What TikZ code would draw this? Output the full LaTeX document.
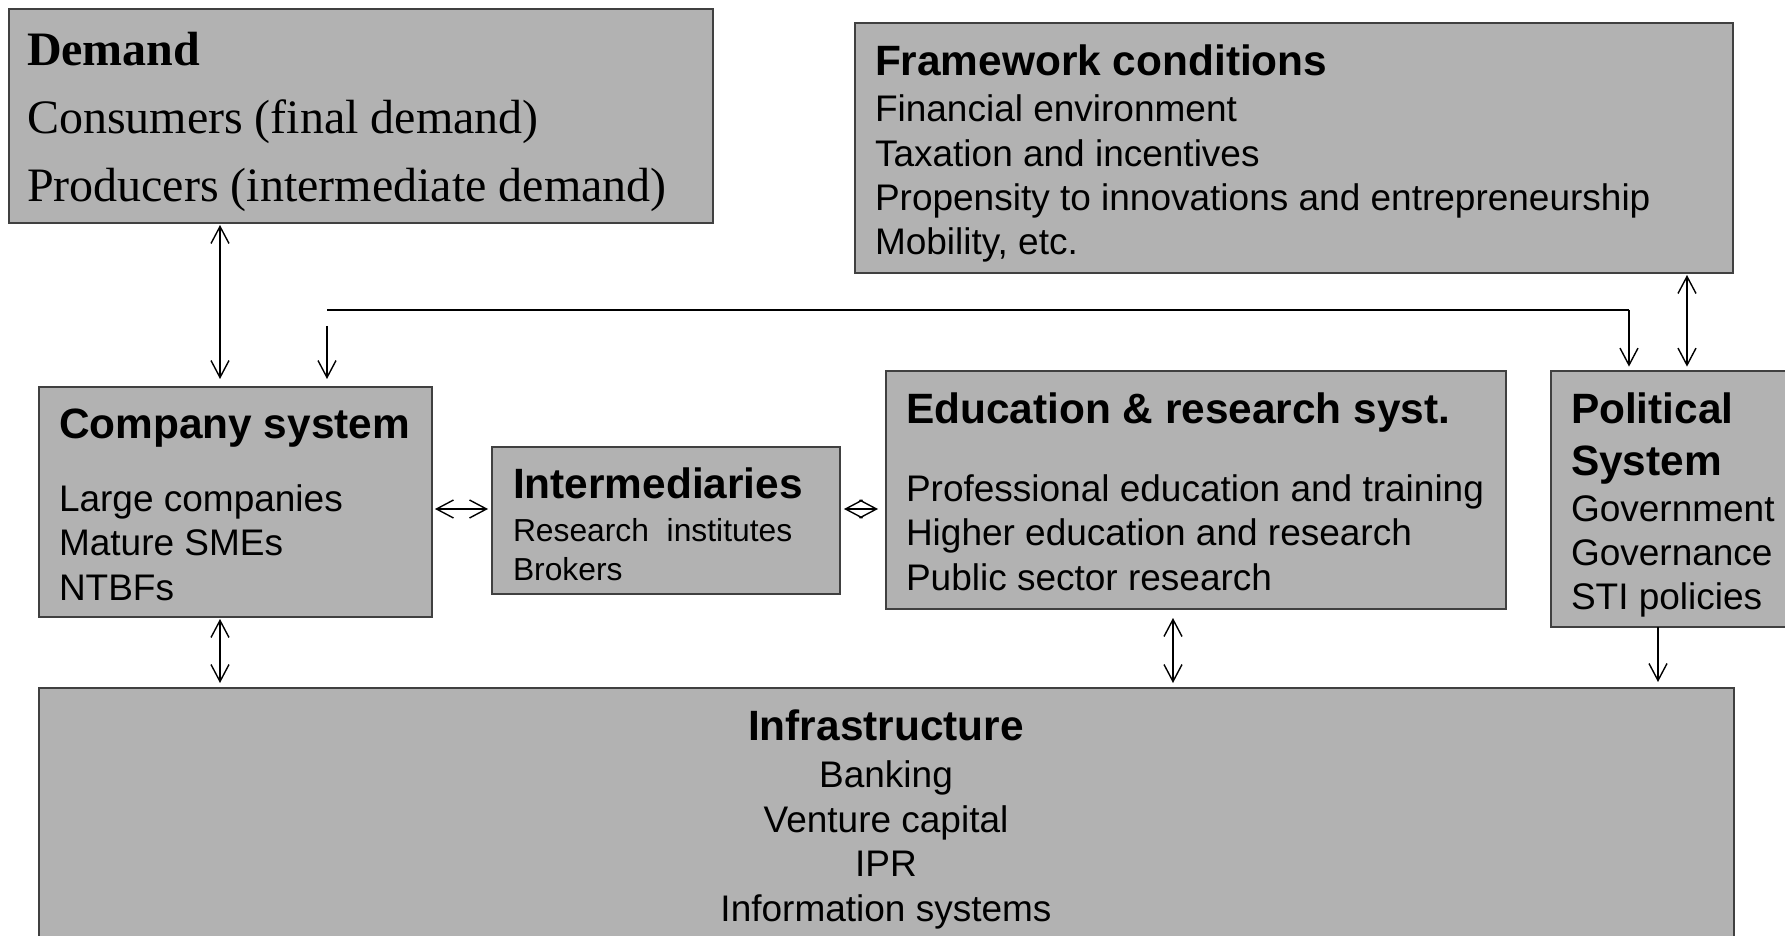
\documentclass[tikz,border=0pt]{standalone}
\usepackage{fontspec}
\setmainfont{Liberation Sans}
\newfontfamily\serifbox{Liberation Serif}
\usetikzlibrary{arrows.meta}
\definecolor{boxgray}{RGB}{178,178,178}

\begin{document}
\begin{tikzpicture}[x=0.5pt,y=-0.5pt]
        \tikzstyle{every node}=[inner sep=0pt, outer sep=0pt]
        \tikzstyle{sysbox}=[rectangle, draw=black!75, line width=1pt, fill=boxgray, anchor=north west]
        \tikzstyle{head}=[anchor=base west, align=left, font=\fontsize{21.2}{26}\selectfont\bfseries]
        \tikzstyle{items}=[anchor=base west, align=left, font=\fontsize{18.5}{22.2}\selectfont]
        \tikzstyle{link}=[line width=0.7pt, {Straight Barb[length=8.5pt,width=9pt]}-{Straight Barb[length=8.5pt,width=9pt]}]
        \tikzstyle{feed}=[line width=0.7pt, -{Straight Barb[length=8.5pt,width=9pt]}]

        \useasboundingbox (0,0) rectangle (1785,936);
        \clip (0,0) rectangle (1785,936);

        % the systems
        \node[sysbox, minimum width=352pt, minimum height=107pt] (demand) at (9,9) {};
        \node[sysbox, minimum width=439pt, minimum height=125pt] (framework) at (855,23) {};
        \node[sysbox, minimum width=196.5pt, minimum height=115pt] (company) at (39,387) {};
        \node[sysbox, minimum width=174pt, minimum height=73.5pt] (inter) at (492,447) {};
        \node[sysbox, minimum width=310pt, minimum height=119pt] (edu) at (886,371) {};
        \node[sysbox, minimum width=130pt, minimum height=128pt] (political) at (1551,371) {};
        \node[sysbox, minimum width=847.5pt, minimum height=135pt] (infra) at (39,688) {};

        % texts (a node of several lines sits on its last baseline)
        \node[head, font=\fontsize{24}{34}\selectfont\serifbox\bfseries] (demandhead) at (27,66) {Demand};
        \node[items, font=\fontsize{24}{34}\selectfont\serifbox] (demanditems) at (27,202)
            {Consumers (final demand)\\Producers (intermediate demand)};

        \node[head] (frameworkhead) at (875,76) {Framework conditions};
        \node[items] (frameworkitems) at (875,255)
            {Financial environment\\Taxation and incentives\\Propensity to innovations and entrepreneurship\\Mobility, etc.};

        \node[head] (companyhead) at (59,439) {Company system};
        \node[items] (companyitems) at (59,600) {Large companies\\Mature SMEs\\NTBFs};

        \node[head] (interhead) at (513,499) {Intermediaries};
        \node[items, font=\fontsize{15.9}{19.3}\selectfont] (interitems) at (513,580)
            {Research\ \ institutes\\Brokers};

        \node[head] (eduhead) at (906,423) {Education \& research syst.};
        \node[items] (eduitems) at (906,590)
            {Professional education and training\\Higher education and research\\Public sector research};

        \node[head] (politicalhead) at (1571,475) {Political\\System};
        \node[items] (politicalitems) at (1571,610) {Government\\Governance\\STI policies};

        \node[head, anchor=base, align=center] (infrahead) at (886,740) {Infrastructure};
        \node[items, anchor=base, align=center] (infraitems) at (886,921)
            {Banking\\Venture capital\\IPR\\Information systems};

        % columns and the policy line
        \coordinate (colA) at (220,0);
        \coordinate (colE) at (1173,0);
        \coordinate (colF) at (1658,0);
        \coordinate (colD) at (1687,0);
        \coordinate (rowA) at (0,509);
        \coordinate (busL) at (327,310);
        \coordinate (busR) at (1629,310);

        \draw[line width=1.4pt] (busL) -- (busR);
        \draw[feed, shorten >=4pt] ([yshift=-8pt]busL) -- (busL |- company.north);
        \draw[feed, shorten >=2.2pt] (busR) -- (busR |- political.north);

        \draw[link, shorten <=1pt, shorten >=4pt] (colA |- demand.south) -- (colA |- company.north);
        \draw[link, shorten <=1pt, shorten >=2.2pt] (colD |- framework.south) -- (colD |- political.north);
        \draw[link, shorten <=1.5pt, shorten >=2pt] (company.east |- rowA) -- (inter.west |- rowA);
        \draw[link, shorten <=2pt, shorten >=4pt] (inter.east |- rowA) -- (edu.west |- rowA);
        \draw[link, shorten <=1pt, shorten >=2.5pt] (colA |- company.south) -- (colA |- infra.north);
        \draw[link, shorten <=4.5pt, shorten >=2.5pt] (colE |- edu.south) -- (colE |- infra.north);
        \draw[feed, shorten >=3pt] (colF |- political.south) -- (colF |- infra.north);
\end{tikzpicture}
\end{document}
